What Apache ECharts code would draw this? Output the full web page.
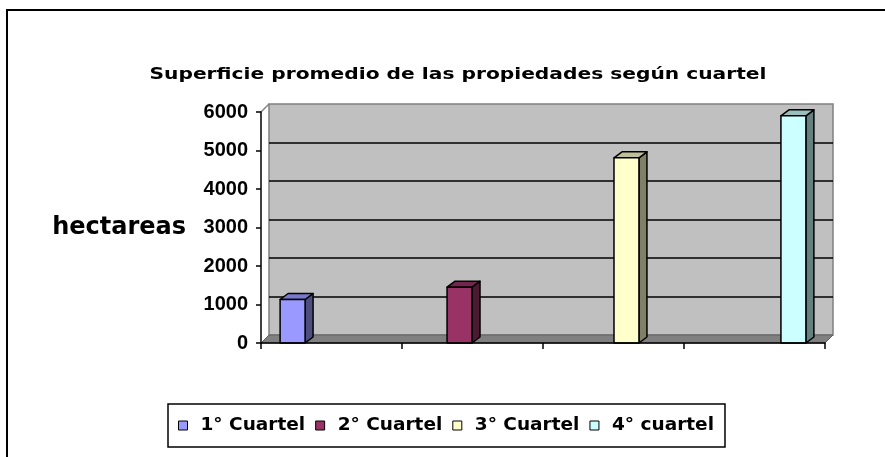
<!DOCTYPE html>
<html>
<head>
<meta charset="utf-8">
<script src="https://cdn.jsdelivr.net/npm/echarts@6/dist/echarts.min.js"></script>
<style>
  html, body { margin: 0; padding: 0; background: #fff; }
  #chart { width: 885px; height: 457px; }
</style>
</head>
<body>
<div id="chart"></div>
<script>
  var titleText = 'Superficie promedio de las propiedades según cuartel';
  var axisName = 'hectareas';
  var seriesNames = ['1° Cuartel', '2° Cuartel', '3° Cuartel', '4° cuartel'];
  var values = [1130, 1450, 4810, 5900];
  var categories = ['', '', '', ''];
  var yMin = 0, yMax = 6000, yStep = 1000;

  var frontColors = ['#9999ff', '#993366', '#ffffcc', '#ccffff'];
  var topColors = ['#7878cc', '#73264d', '#bfbf99', '#99bfbf'];
  var sideColors = ['#4d4d80', '#4d1a33', '#808066', '#668080'];

  var font = '"DejaVu Sans", Verdana, sans-serif';
  var arial = '"Liberation Sans", Arial, sans-serif';
  var wallDx = 8, wallDy = 8;   // depth of the walls
  var barDx = 8, barDy = 6;     // depth of the bars

  // the title in the source is spread wide, stretch it to the same span
  var ctx = document.createElement('canvas').getContext('2d');
  ctx.font = 'bold 16px "DejaVu Sans"';
  var titleScale = 617 / ctx.measureText(titleText).width;

  var myChart = echarts.init(document.getElementById('chart'));

  function barItem(s) {
    return function (params, api) {
      var top = api.coord([api.value(0), api.value(1)]);
      var base = api.coord([api.value(0), 0]);
      var band = api.size([1, 0])[0];
      var w = band * 0.177;
      var cx = top[0] + (s - 1.5) * band * 0.184;
      var x0 = cx - w / 2, x1 = cx + w / 2;
      var y0 = top[1], y1 = base[1];
      var line = { stroke: '#000', lineWidth: 1.5, lineJoin: 'round' };
      return {
        type: 'group',
        children: [{
          type: 'polygon',
          shape: { points: [[x1, y1], [x1 + barDx, y1 - barDy], [x1 + barDx, y0 - barDy], [x1, y0]] },
          style: Object.assign({ fill: sideColors[s] }, line)
        }, {
          type: 'polygon',
          shape: { points: [[x0, y0], [x1, y0], [x1 + barDx, y0 - barDy], [x0 + barDx, y0 - barDy]] },
          style: Object.assign({ fill: topColors[s] }, line)
        }, {
          type: 'rect',
          shape: { x: x0, y: y0, width: w, height: y1 - y0 },
          style: Object.assign({ fill: frontColors[s] }, line)
        }]
      };
    };
  }

  var series = [{
    name: 'floor',
    type: 'custom',
    xAxisIndex: 0,
    yAxisIndex: 0,
    z: 1,
    silent: true,
    data: [[0, 0]],
    renderItem: function (params) {
      var cs = params.coordSys;
      var b = cs.y + cs.height, r = cs.x + cs.width;
      return {
        type: 'group',
        children: [{
          type: 'polygon',
          shape: { points: [[cs.x, b], [r, b], [r + wallDx, b - wallDy], [cs.x + wallDx, b - wallDy]] },
          style: { fill: '#808080', stroke: '#606060', lineWidth: 1 }
        }, {
          type: 'line',
          shape: { x1: cs.x, y1: cs.y, x2: cs.x + wallDx, y2: cs.y - wallDy },
          style: { stroke: '#808080', lineWidth: 1.5 }
        }]
      };
    }
  }];

  seriesNames.forEach(function (name, s) {
    series.push({
      name: name,
      type: 'custom',
      xAxisIndex: 0,
      yAxisIndex: 0,
      z: 3,
      itemStyle: { color: frontColors[s] },
      data: [[s, values[s]]],
      renderItem: barItem(s)
    });
  });

  myChart.setOption({
    backgroundColor: '#fff',
    animation: false,
    legend: {
      data: seriesNames,
      left: 168,
      top: 404,
      icon: 'rect',
      itemWidth: 9,
      itemHeight: 9,
      itemGap: 10,
      padding: [12, 11, 12, 10],
      borderColor: '#000',
      borderWidth: 1.5,
      itemStyle: { borderColor: '#000', borderWidth: 1 },
      textStyle: { fontFamily: font, fontSize: 18.5, fontWeight: 'bold', color: '#000', padding: [0, 0, 0, 8] }
    },
    graphic: [{
      type: 'rect',
      shape: { x: 7, y: 10, width: 900, height: 470 },
      style: { fill: null, stroke: '#000', lineWidth: 2 },
      z: -10
    }, {
      type: 'text',
      x: 458,
      y: 75,
      scaleX: titleScale,
      style: {
        text: titleText,
        align: 'center',
        verticalAlign: 'middle',
        fill: '#000',
        font: 'bold 16px "DejaVu Sans"'
      }
    }],
    grid: [{
      left: 261, top: 112, width: 564, height: 231
    }, {
      left: 261 + wallDx, top: 112 - wallDy, width: 564, height: 231,
      show: true,
      backgroundColor: '#c0c0c0',
      borderColor: '#808080',
      borderWidth: 1.5,
      z: -1
    }],
    xAxis: [{
      type: 'category',
      gridIndex: 0,
      data: categories,
      axisLine: { lineStyle: { color: '#000', width: 1.5 } },
      axisTick: { show: true, length: 6, lineStyle: { color: '#000', width: 1.5 } },
      axisLabel: { show: false },
      splitLine: { show: false },
      z: 4
    }, {
      type: 'category',
      gridIndex: 1,
      data: categories,
      show: false
    }],
    yAxis: [{
      type: 'value',
      gridIndex: 0,
      min: yMin,
      max: yMax,
      interval: yStep,
      name: axisName,
      nameLocation: 'middle',
      nameRotate: 0,
      nameGap: 75,
      nameTextStyle: { fontFamily: font, fontSize: 24, fontWeight: 'bold', color: '#000', align: 'right' },
      axisLine: { show: true, lineStyle: { color: '#000', width: 1.5 } },
      axisTick: { show: true, length: 5, lineStyle: { color: '#000', width: 1.5 } },
      axisLabel: {
        fontFamily: arial, fontSize: 20, fontWeight: 'bold', color: '#000', margin: 13,
        formatter: function (v) { return String(v); }
      },
      splitLine: { show: false },
      z: 4
    }, {
      type: 'value',
      gridIndex: 1,
      min: yMin,
      max: yMax,
      interval: yStep,
      axisLine: { show: false },
      axisTick: { show: false },
      axisLabel: { show: false },
      splitLine: { show: true, showMinLine: false, showMaxLine: false, lineStyle: { color: '#000', width: 1.5 } }
    }],
    series: series
  });
</script>
</body>
</html>
